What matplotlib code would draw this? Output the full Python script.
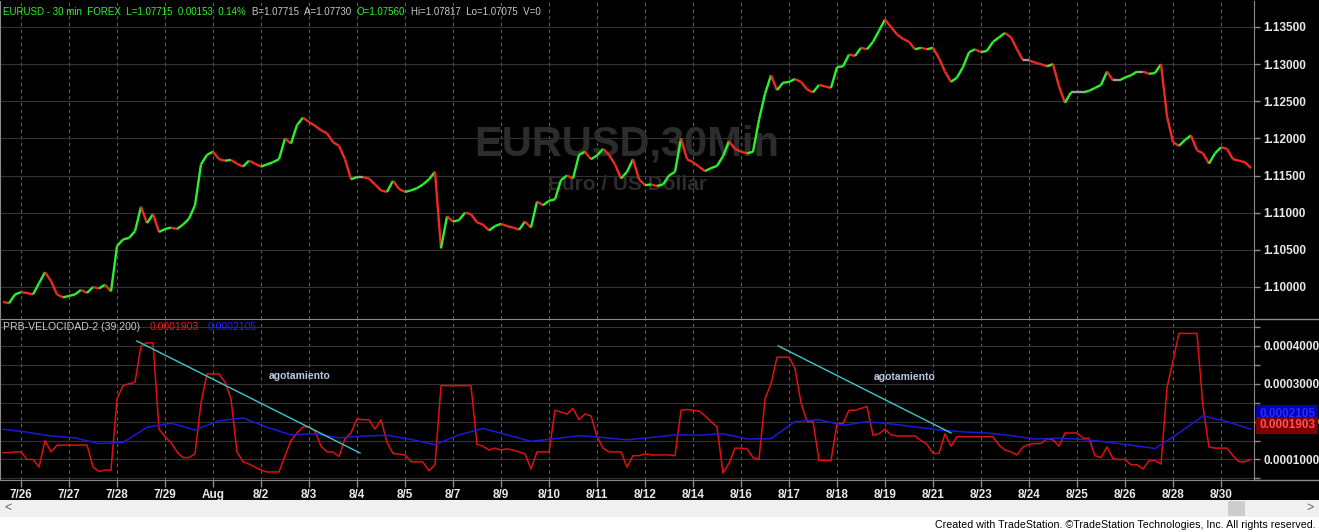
import matplotlib.pyplot as plt
import numpy as np
from matplotlib.collections import LineCollection
from matplotlib.patches import Rectangle
from matplotlib.lines import Line2D

# ---- values: one sample every ~6 px (about 3h of 30-min bars) ----
closes = [
    1.0980, 1.0978, 1.0990, 1.0993, 1.0992, 1.0990, 1.1005, 1.1020, 1.1008, 1.0990,
    1.0986, 1.0988, 1.0990, 1.0996, 1.0992, 1.1000, 1.0998, 1.1003, 1.0994, 1.1055,
    1.1064, 1.1066, 1.1075, 1.1108, 1.1086, 1.1098, 1.1074, 1.1078, 1.1080, 1.1078,
    1.1084, 1.1092, 1.1110, 1.1165, 1.1178, 1.1182, 1.1172, 1.1170, 1.1171, 1.1166,
    1.1162, 1.1170, 1.1166, 1.1162, 1.1165, 1.1168, 1.1172, 1.1200, 1.1193, 1.1218,
    1.1228, 1.1222, 1.1217, 1.1211, 1.1207, 1.1195, 1.1190, 1.1172, 1.1145, 1.1148,
    1.1148, 1.1146, 1.1138, 1.1130, 1.1128, 1.1143, 1.1132, 1.1128, 1.1130, 1.1133,
    1.1138, 1.1145, 1.1155, 1.1052, 1.1095, 1.1088, 1.1090, 1.1100, 1.1098, 1.1087,
    1.1084, 1.1076, 1.1082, 1.1085, 1.1082, 1.1080, 1.1077, 1.1088, 1.1080, 1.1115,
    1.1110, 1.1116, 1.1118, 1.1144, 1.1150, 1.1146, 1.1178, 1.1182, 1.1172, 1.1177,
    1.1186, 1.1178, 1.1165, 1.1146, 1.1155, 1.1172, 1.1145, 1.1137, 1.1138, 1.1136,
    1.1138, 1.1150, 1.1155, 1.1200, 1.1172, 1.1168, 1.1162, 1.1156, 1.1160, 1.1163,
    1.1176, 1.1196, 1.1186, 1.1182, 1.1180, 1.1182, 1.1225, 1.1260, 1.1285, 1.1265,
    1.1275, 1.1276, 1.1280, 1.1276, 1.1266, 1.1262, 1.1272, 1.1270, 1.1268, 1.1296,
    1.1297, 1.1313, 1.1311, 1.1322, 1.1320, 1.1330, 1.1345, 1.1360, 1.1350, 1.1340,
    1.1334, 1.1330, 1.1320, 1.1322, 1.1320, 1.1322, 1.1308, 1.1290, 1.1276, 1.1282,
    1.1296, 1.1316, 1.1320, 1.1316, 1.1318, 1.1330, 1.1336, 1.1342, 1.1336, 1.1320,
    1.1305, 1.1305, 1.1302, 1.1300, 1.1297, 1.1300, 1.1270, 1.1248, 1.1262, 1.1262,
    1.1262, 1.1264, 1.1268, 1.1272, 1.1290, 1.1278, 1.1278, 1.1282, 1.1285, 1.1290,
    1.1290, 1.1287, 1.1288, 1.1300, 1.1230, 1.1195, 1.1190, 1.1198, 1.1204, 1.1184,
    1.1180, 1.1166, 1.1180, 1.1188, 1.1186, 1.1172, 1.1170, 1.1168, 1.1160,
]

# PRB-VELOCIDAD-2 red line, same sampling, in units of 1e-4
velocidad = [
    1.18, 1.18, 1.20, 1.20, 1.00, 1.00, 0.80, 1.50, 1.20, 1.38,
    1.38, 1.38, 1.38, 1.38, 1.38, 0.80, 0.68, 0.72, 0.72, 2.60,
    2.95, 3.00, 3.04, 4.00, 4.08, 4.08, 1.80, 1.60, 1.45, 1.20,
    1.05, 1.05, 1.15, 2.50, 3.26, 3.26, 3.26, 3.04, 2.60, 1.20,
    0.94, 0.88, 0.80, 0.72, 0.67, 0.67, 0.67, 1.10, 1.50, 1.70,
    1.86, 1.86, 1.75, 1.35, 1.20, 1.20, 1.08, 1.55, 1.70, 2.07,
    2.05, 2.05, 1.80, 2.05, 1.45, 1.16, 1.14, 1.12, 0.94, 0.94,
    0.93, 0.70, 0.86, 2.95, 2.95, 2.95, 2.95, 2.95, 2.95, 1.40,
    1.35, 1.25, 1.30, 1.25, 1.28, 1.25, 1.20, 1.15, 0.75, 1.20,
    1.20, 1.20, 2.30, 2.25, 2.20, 2.35, 2.05, 2.20, 2.15, 1.60,
    1.30, 1.20, 1.20, 1.20, 0.80, 1.10, 1.10, 1.15, 1.12, 1.12,
    1.12, 1.12, 1.10, 2.30, 2.32, 2.30, 2.28, 2.15, 2.00, 1.86,
    0.64, 0.90, 1.30, 1.30, 1.28, 1.05, 1.00, 2.60, 3.00, 3.70,
    3.70, 3.70, 3.40, 2.50, 2.00, 2.00, 0.98, 0.97, 0.97, 1.95,
    1.95, 2.30, 2.30, 2.35, 2.40, 1.64, 1.68, 1.80, 1.65, 1.62,
    1.62, 1.62, 1.62, 1.50, 1.40, 1.16, 1.16, 1.68, 1.35, 1.60,
    1.60, 1.60, 1.60, 1.60, 1.60, 1.60, 1.38, 1.25, 1.20, 1.12,
    1.33, 1.40, 1.42, 1.42, 1.55, 1.52, 1.35, 1.70, 1.70, 1.70,
    1.56, 1.56, 1.10, 1.05, 1.33, 1.02, 1.00, 1.00, 0.86, 0.86,
    0.75, 0.97, 0.97, 0.88, 2.90, 3.60, 4.33, 4.33, 4.33, 4.33,
    2.40, 1.33, 1.30, 1.30, 1.30, 1.10, 0.94, 0.94, 1.00,
]

# blue average line, one value every 4 samples, units of 1e-4
media = [
    1.80, 1.72, 1.62, 1.57, 1.42, 1.45, 1.85, 1.96, 1.78, 2.02,
    2.10, 1.85, 1.65, 1.68, 1.57, 1.62, 1.64, 1.53, 1.39, 1.65,
    1.82, 1.65, 1.48, 1.55, 1.63, 1.58, 1.52, 1.58, 1.65, 1.64,
    1.68, 1.54, 1.55, 2.00, 2.05, 1.90, 2.00, 1.94, 1.86, 1.78,
    1.73, 1.70, 1.63, 1.54, 1.56, 1.53, 1.46, 1.38, 1.29, 1.70,
    2.15, 2.00, 1.80,
]
media_step = 4
ind_unit = 1e-4

day_labels = ['7/26', '7/27', '7/28', '7/29', 'Aug', '8/2', '8/3', '8/4', '8/5',
              '8/7', '8/9', '8/10', '8/11', '8/12', '8/14', '8/16', '8/17', '8/18',
              '8/19', '8/21', '8/23', '8/24', '8/25', '8/26', '8/28', '8/30']
bars_per_day = 8
first_day_bar = 3

price_ticks = [1.100, 1.105, 1.110, 1.115, 1.120, 1.125, 1.130, 1.135]
ind_ticks = [0.5, 1.0, 1.5, 2.0, 2.5, 3.0, 3.5, 4.0, 4.5]
ind_labeled = [1.0, 2.0, 3.0, 4.0]
last_red = 0.0001903
last_blue = 0.0002105

# hand-drawn trendlines on the indicator: (bar, value in 1e-4)
trend_lines = [((22.3, 4.13), (59.5, 1.17)), ((129.2, 4.00), (158.0, 1.70))]
notes = [(49.5, 3.21, 'agotamiento'), (150.3, 3.18, 'agotamiento')]

header = [('EURUSD - 30 min  FOREX  L=1.07715  0.00153  0.14%', '#2cf52c'),
          ('B=1.07715  A=1.07730', '#c8c8c8'),
          ('O=1.07560', '#2cf52c'),
          ('Hi=1.07817  Lo=1.07075  V=0', '#c8c8c8')]
ind_title = [('PRB-VELOCIDAD-2 (39,200)', '#c8c8c8'),
             (f'{last_red:.7f}', '#f01818'),
             (f'{last_blue:.7f}', '#2020ff')]

plt.rcParams['font.family'] = ['Liberation Sans', 'DejaVu Sans']

W, H = 1319, 532
fig = plt.figure(figsize=(W / 100, H / 100), dpi=100, facecolor='black')


def fx(px):
    return px / W


def fy(py):
    return 1 - py / H


def chain_text(parts, px, py, size, gap):
    # lay colored pieces of text one after another, like the TradeStation status line
    renderer = fig.canvas.get_renderer()
    for txt, c in parts:
        t = fig.text(fx(px), fy(py), txt, color=c, fontsize=size, va='center', ha='left')
        px = t.get_window_extent(renderer=renderer).x1 + gap


ax_p = fig.add_axes([0, fy(319), fx(1254), 318 / H])
ax_i = fig.add_axes([0, fy(480), fx(1254), 161 / H])

day_pos = first_day_bar + bars_per_day * np.arange(len(day_labels))
xlim = (-0.5, len(closes) - 0.5)

for ax in (ax_p, ax_i):
    ax.set_facecolor('black')
    ax.set_xlim(*xlim)
    for s in ('top', 'bottom'):
        ax.spines[s].set_visible(False)
    ax.spines['right'].set_color('#8a8a8a')
    ax.spines['left'].set_color('#8a8a8a')
    ax.yaxis.tick_right()
    ax.tick_params(axis='y', colors='#8a8a8a', labelcolor='#e8e8e8', length=4,
                   width=1, pad=3, labelsize=8.5)
    ax.set_xticks(day_pos)
    ax.grid(axis='x', color='#5e5e5e', linestyle=(0, (3, 3)), linewidth=0.8)
    ax.grid(axis='y', color='#333333', linewidth=0.8)
    ax.set_axisbelow(True)

# ---- price panel ----
segs = [[(i - 1, closes[i - 1]), (i, closes[i])] for i in range(1, len(closes))]
cols = []
for i in range(1, len(closes)):
    if closes[i] > closes[i - 1]:
        cols.append('#2ef02e')
    elif closes[i] < closes[i - 1]:
        cols.append('#ee2a22')
    else:
        cols.append('#a0a0a0')
ax_p.add_collection(LineCollection(segs, colors=cols, linewidths=1.7, zorder=3))
ax_p.set_ylim(1.09569, 1.1385)
ax_p.set_yticks(price_ticks)
ax_p.set_yticklabels([f'{v:.5f}' for v in price_ticks], fontweight='bold')
ax_p.tick_params(axis='x', length=0, labelbottom=False)

ax_p.text(fx(627), fy(145), 'EURUSD,30Min', transform=fig.transFigure, ha='center',
          va='center', fontsize=30, fontweight='bold', color='#2c2c2c', zorder=1)
ax_p.text(fx(627), fy(185), 'Euro / US Dollar', transform=fig.transFigure, ha='center',
          va='center', fontsize=15, fontweight='bold', color='#2c2c2c', zorder=1)

chain_text(header, 3, 12, 7.0, 6)

# ---- indicator panel ----
ax_i.spines['top'].set_visible(True)
ax_i.spines['top'].set_color('#8a8a8a')
ax_i.spines['bottom'].set_visible(True)
ax_i.spines['bottom'].set_color('#8a8a8a')
xi = np.arange(len(velocidad))
ax_i.plot(xi, np.array(velocidad) * ind_unit, color='#e01010', lw=1.1, zorder=3)
xm = np.arange(len(media)) * media_step
ax_i.plot(xm, np.array(media) * ind_unit, color='#1a1ad8', lw=1.1, zorder=3)
for (x0, y0), (x1, y1) in trend_lines:
    ax_i.plot([x0, x1], [y0 * ind_unit, y1 * ind_unit], color='#3cc8c8', lw=1.0, zorder=4)
for x0, y0, txt in notes:
    ax_i.text(x0, y0 * ind_unit, txt, color='#b8c8e8', fontsize=7.5, fontweight='bold',
              ha='center', va='center', zorder=4)

ax_i.set_ylim(0.458e-4, 4.71e-4)
ax_i.set_yticks(np.array(ind_ticks) * ind_unit)
ax_i.set_yticklabels([f'{v * ind_unit:.7f}' if v in ind_labeled else '' for v in ind_ticks],
                     fontweight='bold')
ax_i.set_xticklabels(day_labels, fontweight='bold')
ax_i.tick_params(axis='x', colors='#8a8a8a', labelcolor='#e8e8e8', length=5, width=1,
                 pad=1.5, labelsize=8.5)

chain_text(ind_title, 3, 327, 7.6, 9)

ytr = ax_i.get_yaxis_transform()
ax_i.annotate(f'{last_blue:.7f}', xy=(1, last_blue), xycoords=ytr, xytext=(5, 4),
              textcoords='offset pixels', va='center', ha='left', fontsize=8.5,
              fontweight='bold', color='#2a2aff', annotation_clip=False, zorder=10,
              bbox=dict(boxstyle='square,pad=0.22', fc='#0000b4', ec='none'))
ax_i.annotate(f'{last_red:.7f}', xy=(1, last_red), xycoords=ytr, xytext=(5, 0),
              textcoords='offset pixels', va='center', ha='left', fontsize=8.5,
              fontweight='bold', color='#ff5050', annotation_clip=False, zorder=11,
              bbox=dict(boxstyle='square,pad=0.22', fc='#7d0000', ec='none'))

# separators reaching into the price-scale column
for py in (319, 480):
    fig.add_artist(Line2D([fx(1254), 1], [fy(py), fy(py)], color='#8a8a8a', lw=1))

# scrollbar and footer
fig.add_artist(Rectangle((0, 0), 1, fy(517), transform=fig.transFigure,
                         facecolor='white', edgecolor='none'))
fig.add_artist(Rectangle((0, fy(517)), 1, 17 / H, transform=fig.transFigure,
                         facecolor='#f0f0f0', edgecolor='none'))
fig.add_artist(Rectangle((fx(1228), fy(516)), fx(17), 15 / H, transform=fig.transFigure,
                         facecolor='#cdcdcd', edgecolor='none'))
fig.text(fx(8), fy(508), '<', color='#606060', fontsize=9, ha='center', va='center')
fig.text(fx(1310), fy(508), '>', color='#606060', fontsize=9, ha='center', va='center')
fig.text(fx(1316), fy(525),
         'Created with TradeStation. \u00a9TradeStation Technologies, Inc. All rights reserved.',
         family=['Liberation Sans Narrow', 'Liberation Sans'], fontsize=7.7,
         color='black', ha='right', va='center')

fig.savefig('out.png', dpi=100, facecolor='black')
